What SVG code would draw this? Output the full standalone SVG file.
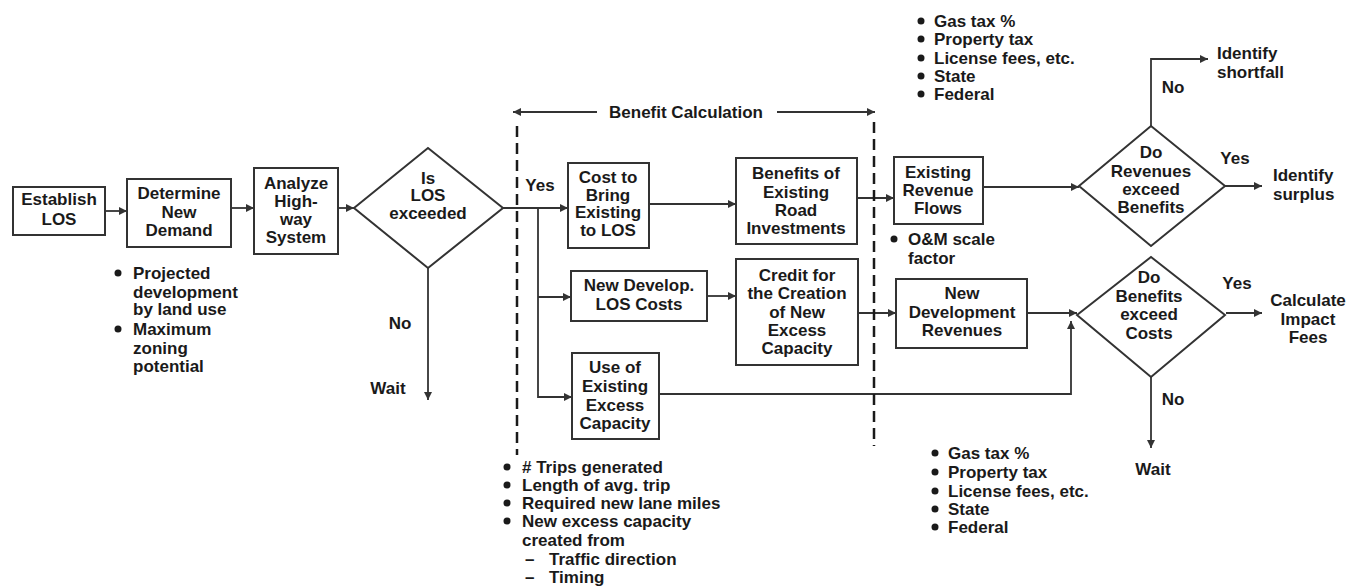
<svg xmlns="http://www.w3.org/2000/svg" width="1350" height="587" viewBox="0 0 1350 587">
<style>
text{font-family:"Liberation Sans",Arial,sans-serif;font-weight:bold;font-size:17px;fill:#1a1a1a}
.c{text-anchor:middle}
.box{fill:#fff;stroke:#333;stroke-width:2}
.ln{fill:none;stroke:#333;stroke-width:1.8}
.dash{fill:none;stroke:#1a1a1a;stroke-width:2.5;stroke-dasharray:11 6}
.b{fill:#1a1a1a}
</style>
<defs>
<marker id="ah" viewBox="0 0 10 10" refX="10" refY="5" markerWidth="10" markerHeight="8" markerUnits="userSpaceOnUse" orient="auto"><path d="M0,0 L10,5 L0,10 z" fill="#333"/></marker>
</defs>
<rect width="1350" height="587" fill="#fff"/>

<g id="connectors">
<line class="ln" x1="105" y1="211" x2="127" y2="211" marker-end="url(#ah)"/>
<line class="ln" x1="231" y1="208" x2="254" y2="208" marker-end="url(#ah)"/>
<line class="ln" x1="338" y1="208" x2="354" y2="208" marker-end="url(#ah)"/>
<line class="ln" x1="428" y1="268" x2="428" y2="400" marker-end="url(#ah)"/>
<line class="ln" x1="503" y1="208" x2="568" y2="208" marker-end="url(#ah)"/>
<polyline class="ln" points="538,208 538,397 572,397" marker-end="url(#ah)"/>
<line class="ln" x1="538" y1="297" x2="571" y2="297" marker-end="url(#ah)"/>
<line class="ln" x1="649" y1="204" x2="736" y2="204" marker-end="url(#ah)"/>
<line class="ln" x1="707" y1="296" x2="736" y2="296" marker-end="url(#ah)"/>
<line class="ln" x1="857" y1="198" x2="894" y2="198" marker-end="url(#ah)"/>
<line class="ln" x1="858" y1="313" x2="896" y2="313" marker-end="url(#ah)"/>
<polyline class="ln" points="659,394 1071,394 1071,321" marker-end="url(#ah)"/>
<line class="ln" x1="983" y1="187" x2="1079" y2="187" marker-end="url(#ah)"/>
<polyline class="ln" points="1151,126 1151,59 1208,59" marker-end="url(#ah)"/>
<line class="ln" x1="1225" y1="186" x2="1262" y2="186" marker-end="url(#ah)"/>
<line class="ln" x1="1027" y1="313" x2="1077" y2="313" marker-end="url(#ah)"/>
<line class="ln" x1="1226" y1="313" x2="1262" y2="313" marker-end="url(#ah)"/>
<line class="ln" x1="1151" y1="377" x2="1151" y2="448" marker-end="url(#ah)"/>
<line class="ln" x1="597" y1="112" x2="513" y2="112" marker-end="url(#ah)"/>
<line class="ln" x1="777" y1="112" x2="875" y2="112" marker-end="url(#ah)"/>
<line class="dash" x1="517" y1="126" x2="517" y2="455"/>
<line class="dash" x1="874" y1="122" x2="874" y2="446"/>
</g>

<g id="benefit-calc"><text class="c" x="686" y="118">Benefit Calculation</text></g>

<g id="establish">
<rect class="box" x="13" y="187" width="92" height="48"/>
<text class="c" x="59" y="205">Establish</text><text class="c" x="59" y="225">LOS</text>
</g>
<g id="determine">
<rect class="box" x="127" y="179" width="104" height="68"/>
<text class="c" x="179" y="199">Determine</text><text class="c" x="179" y="218">New</text><text class="c" x="179" y="236">Demand</text>
</g>
<g id="demand-notes">
<circle class="b" cx="118" cy="273" r="3.5"/><circle class="b" cx="118" cy="329" r="3.5"/>
<text x="133" y="279">Projected</text><text x="133" y="298">development</text><text x="133" y="315">by land use</text>
<text x="133" y="335">Maximum</text><text x="133" y="354">zoning</text><text x="133" y="372">potential</text>
</g>
<g id="analyze">
<rect class="box" x="254" y="168" width="84" height="86"/>
<text class="c" x="296" y="189">Analyze</text><text class="c" x="296" y="207">High-</text><text class="c" x="296" y="225">way</text><text class="c" x="296" y="243">System</text>
</g>
<g id="is-los">
<polygon class="box" points="354,208 428,148 503,208 428,268"/>
<text class="c" x="428" y="184">Is</text><text class="c" x="428" y="201">LOS</text><text class="c" x="428" y="219">exceeded</text>
<text class="c" x="400" y="329">No</text><text class="c" x="388" y="394">Wait</text>
<text class="c" x="540" y="191">Yes</text>
</g>
<g id="cost-bring">
<rect class="box" x="568" y="163" width="81" height="85"/>
<text class="c" x="608" y="183">Cost to</text><text class="c" x="608" y="201">Bring</text><text class="c" x="608" y="218">Existing</text><text class="c" x="608" y="236">to LOS</text>
</g>
<g id="new-develop">
<rect class="box" x="571" y="271" width="136" height="50"/>
<text class="c" x="639" y="291">New Develop.</text><text class="c" x="639" y="310">LOS Costs</text>
</g>
<g id="use-existing">
<rect class="box" x="572" y="353" width="87" height="86"/>
<text class="c" x="615" y="373">Use of</text><text class="c" x="615" y="392">Existing</text><text class="c" x="615" y="411">Excess</text><text class="c" x="615" y="429">Capacity</text>
</g>
<g id="benefit-notes">
<circle class="b" cx="507" cy="467" r="3.5"/><circle class="b" cx="507" cy="485" r="3.5"/><circle class="b" cx="507" cy="503" r="3.5"/><circle class="b" cx="507" cy="521" r="3.5"/>
<text x="522" y="473"># Trips generated</text><text x="522" y="491">Length of avg. trip</text><text x="522" y="509">Required new lane miles</text>
<text x="522" y="527">New excess capacity</text><text x="522" y="546">created from</text>
<text x="525" y="565">–</text><text x="549" y="565">Traffic direction</text>
<text x="525" y="583">–</text><text x="549" y="583">Timing</text>
</g>
<g id="benefits-existing">
<rect class="box" x="736" y="158" width="121" height="86"/>
<text class="c" x="796" y="179">Benefits of</text><text class="c" x="796" y="198">Existing</text><text class="c" x="796" y="216">Road</text><text class="c" x="796" y="234">Investments</text>
</g>
<g id="credit">
<rect class="box" x="736" y="259" width="122" height="106"/>
<text class="c" x="797" y="281">Credit for</text><text class="c" x="797" y="299">the Creation</text><text class="c" x="797" y="318">of New</text><text class="c" x="797" y="336">Excess</text><text class="c" x="797" y="354">Capacity</text>
</g>
<g id="existing-revenue">
<rect class="box" x="894" y="157" width="89" height="67"/>
<text class="c" x="938" y="178">Existing</text><text class="c" x="938" y="196">Revenue</text><text class="c" x="938" y="214">Flows</text>
<circle class="b" cx="894" cy="239" r="3.5"/>
<text x="908" y="245">O&amp;M scale</text><text x="908" y="264">factor</text>
</g>
<g id="top-notes">
<circle class="b" cx="921" cy="21" r="3.5"/><circle class="b" cx="921" cy="39" r="3.5"/><circle class="b" cx="921" cy="58" r="3.5"/><circle class="b" cx="921" cy="76" r="3.5"/><circle class="b" cx="921" cy="94" r="3.5"/>
<text x="934" y="27">Gas tax %</text><text x="934" y="45">Property tax</text><text x="934" y="64">License fees, etc.</text><text x="934" y="82">State</text><text x="934" y="100">Federal</text>
</g>
<g id="new-dev-revenues">
<rect class="box" x="896" y="279" width="131" height="69"/>
<text class="c" x="962" y="299">New</text><text class="c" x="962" y="318">Development</text><text class="c" x="962" y="336">Revenues</text>
</g>
<g id="bottom-notes">
<circle class="b" cx="935" cy="453" r="3.5"/><circle class="b" cx="935" cy="472" r="3.5"/><circle class="b" cx="935" cy="491" r="3.5"/><circle class="b" cx="935" cy="509" r="3.5"/><circle class="b" cx="935" cy="527" r="3.5"/>
<text x="948" y="459">Gas tax %</text><text x="948" y="478">Property tax</text><text x="948" y="497">License fees, etc.</text><text x="948" y="515">State</text><text x="948" y="533">Federal</text>
</g>
<g id="do-revenues">
<polygon class="box" points="1079,186 1151,126 1225,186 1151,246"/>
<text class="c" x="1151" y="158">Do</text><text class="c" x="1151" y="177">Revenues</text><text class="c" x="1151" y="195">exceed</text><text class="c" x="1151" y="213">Benefits</text>
<text class="c" x="1173" y="93">No</text><text class="c" x="1235" y="164">Yes</text>
</g>
<g id="identify-shortfall"><text x="1217" y="59">Identify</text><text x="1217" y="78">shortfall</text></g>
<g id="identify-surplus"><text x="1273" y="181">Identify</text><text x="1273" y="200">surplus</text></g>
<g id="do-benefits">
<polygon class="box" points="1077,315 1151,257 1225,315 1151,377"/>
<text class="c" x="1149" y="283">Do</text><text class="c" x="1149" y="302">Benefits</text><text class="c" x="1149" y="320">exceed</text><text class="c" x="1149" y="339">Costs</text>
<text class="c" x="1237" y="289">Yes</text><text class="c" x="1173" y="405">No</text>
</g>
<g id="calculate"><text class="c" x="1308" y="306">Calculate</text><text class="c" x="1308" y="325">Impact</text><text class="c" x="1308" y="343">Fees</text></g>
<g id="wait2"><text class="c" x="1153" y="475">Wait</text></g>
</svg>
